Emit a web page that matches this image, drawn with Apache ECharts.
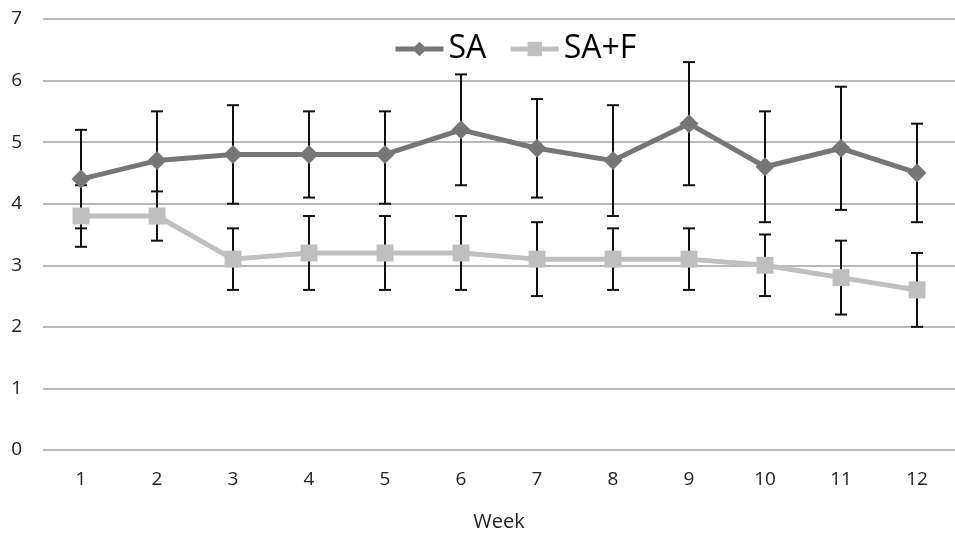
<!DOCTYPE html>
<html>
<head>
<meta charset="utf-8">
<script src="https://cdn.jsdelivr.net/npm/echarts@6/dist/echarts.min.js"></script>
<style>html,body{margin:0;padding:0;background:#fff;}#c{width:955px;height:537px;}</style>
</head>
<body>
<div id="c"></div>
<script>
const weeks = ['1','2','3','4','5','6','7','8','9','10','11','12'];
const saValues = [4.4, 4.7, 4.8, 4.8, 4.8, 5.2, 4.9, 4.7, 5.3, 4.6, 4.9, 4.5];
const saLow    = [3.6, 3.9, 4.0, 4.1, 4.0, 4.3, 4.1, 3.8, 4.3, 3.7, 3.9, 3.7];
const saHigh   = [5.2, 5.5, 5.6, 5.5, 5.5, 6.1, 5.7, 5.6, 6.3, 5.5, 5.9, 5.3];
const safValues = [3.8, 3.8, 3.1, 3.2, 3.2, 3.2, 3.1, 3.1, 3.1, 3.0, 2.8, 2.6];
const safLow    = [3.3, 3.4, 2.6, 2.6, 2.6, 2.6, 2.5, 2.6, 2.6, 2.5, 2.2, 2.0];
const safHigh   = [4.3, 4.2, 3.6, 3.8, 3.8, 3.8, 3.7, 3.6, 3.6, 3.5, 3.4, 3.2];
const yTicks = [0, 1, 2, 3, 4, 5, 6, 7];

const FONT = '"Open Sans", "DejaVu Sans", sans-serif';

function errData(low, high) {
  return low.map((l, i) => [i, l, high[i]]);
}
function errRender(params, api) {
  const x = api.value(0);
  const lo = api.coord([x, api.value(1)]);
  const hi = api.coord([x, api.value(2)]);
  const hw = 6;
  const style = { stroke: '#111', lineWidth: 2, fill: null };
  return {
    type: 'group',
    children: [
      { type: 'line', shape: { x1: lo[0], y1: lo[1], x2: hi[0], y2: hi[1] }, style: style },
      { type: 'line', shape: { x1: hi[0] - hw, y1: hi[1], x2: hi[0] + hw, y2: hi[1] }, style: style },
      { type: 'line', shape: { x1: lo[0] - hw, y1: lo[1], x2: lo[0] + hw, y2: lo[1] }, style: style }
    ]
  };
}

const chart = echarts.init(document.getElementById('c'), null, { renderer: 'canvas' });
chart.setOption({
  animation: false,
  backgroundColor: '#fff',
  textStyle: { fontFamily: FONT },
  grid: { left: 43, top: 19, width: 922, height: 431, containLabel: false },
  legend: {
    left: 388, top: 28,
    itemWidth: 48, itemHeight: 18, itemGap: 22,
    lineStyle: { width: 5 },
    textStyle: { fontSize: 32, color: '#000', fontFamily: FONT },
    data: ['SA', 'SA+F']
  },
  xAxis: {
    type: 'category',
    data: weeks,
    boundaryGap: true,
    axisLine: { show: false },
    axisTick: { show: false },
    axisLabel: { fontSize: 19, color: '#222', margin: 20, fontFamily: FONT },
    name: 'Week',
    nameLocation: 'middle',
    nameGap: 62,
    nameTextStyle: { fontSize: 20, color: '#222', fontFamily: FONT }
  },
  yAxis: {
    type: 'value',
    min: yTicks[0], max: yTicks[yTicks.length - 1], interval: 1,
    axisLine: { show: false },
    axisTick: { show: false },
    axisLabel: { fontSize: 19, color: '#222', margin: 21, fontFamily: FONT },
    splitLine: { lineStyle: { color: '#a0a0a0', width: 1.5 } }
  },
  series: [
    {
      type: 'custom', name: 'SA err', renderItem: errRender,
      data: errData(saLow, saHigh), z: 1, silent: true
    },
    {
      type: 'custom', name: 'SA+F err', renderItem: errRender,
      data: errData(safLow, safHigh), z: 1, silent: true
    },
    {
      type: 'line', name: 'SA', data: saValues, z: 3,
      symbol: 'diamond', symbolSize: 19,
      lineStyle: { color: '#767676', width: 5 },
      itemStyle: { color: '#767676' }
    },
    {
      type: 'line', name: 'SA+F', data: safValues, z: 3,
      symbol: 'rect', symbolSize: 17,
      lineStyle: { color: '#bfbfbf', width: 5 },
      itemStyle: { color: '#bfbfbf' }
    }
  ]
});
</script>
</body>
</html>
